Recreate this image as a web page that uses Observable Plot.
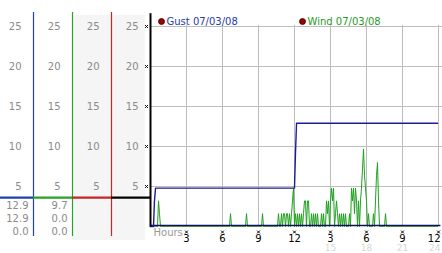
<!DOCTYPE html>
<html><head><meta charset="utf-8">
<script src="https://cdn.jsdelivr.net/npm/d3@7"></script>
<script src="https://cdn.jsdelivr.net/npm/@observablehq/plot@0.6"></script>
<style>body{margin:0;background:#fff} svg{display:block}</style>
</head><body><div id="chart"></div>
<script>
// ---- data ----
const yTicks = [5, 10, 15, 20, 25];
const xTicks = [3, 6, 9, 12, 15, 18, 21, 24];
const xTickLabels = ["3", "6", "9", "12", "3", "6", "9", "12"];
const xTickLabels2 = ["", "", "", "", "15", "18", "21", "24"];
const seriesNames = ["Gust 07/03/08", "Wind 07/03/08"];
const seriesColors = ["#1c1c96", "#1fa01f"];
const legendTextColors = ["#2a3aa8", "#1f9a1f"];

// gust (step curve), hours / values
const gustHours  = [0, 0.25, 0.33, 0.42, 12.0, 12.08, 12.17, 23.92];
const gustValues = [0, 0,    3.2,  4.8,  4.8,  9.1,   12.9,  12.9];

// wind: one reading every 5 minutes, 24 per row (2 hours)
const windStepHours = 5 / 60;
const windValues = [
  0,0,0,0,0,0,0,0,3.2,1.6,0,0,0,0,0,0,0,0,0,0,0,0,0,0,
  0,0,0,0,0,0,0,0,0,0,0,0,0,0,0,0,0,0,0,0,0,0,0,0,
  0,0,0,0,0,0,0,0,0,0,0,0,0,0,0,0,0,0,0,0,0,0,0,0,
  0,0,0,0,0,0,0,0,1.6,0,0,0,0,0,0,0,0,0,0,0,0,0,0,0,
  1.6,0,0,0,0,0,0,0,0,0,0,0,0,0,0,0,1.6,0,0,0,0,0,0,0,
  0,0,0,0,0,0,0,0,1.6,0,0,1.6,0,1.6,1.6,0,1.6,1.6,0,1.6,0,1.6,3.2,4.8,
  0,1.6,0,1.6,0,1.6,0,1.6,0,1.6,3.2,3.2,0,3.2,3.2,0,0,1.6,0,1.6,0,1.6,0,1.6,
  0,0,0,1.6,0,1.6,0,0,3.2,1.6,3.2,0,3.2,4.8,3.2,4.8,0,1.6,3.2,1.6,0,1.6,0,1.6,
  0,1.6,0,1.6,0,0,0,1.6,0,4.8,3.2,4.8,1.6,4.8,3.2,0,3.2,0,3.2,4.8,7.2,9.7,6.4,4.8,
  3.2,0,1.6,0,0,0,0,1.6,0,3.2,6.4,8.0,3.2,0,0,0,0,0,0,1.6,0,0,0,0,
  0,0,0,0,0,0,0,0,0,0,0,0,0,0,0,0,0,0,0,0,0,0,0,0,
  0,0,0,0,0,0,0,0,0,0,0,0,0,0,0,0,0,0,0,0,0,0,0,0
];

// left readout panel: column edges (in hour units of the shared x scale)
const panelLeft  = [-12.5, -9.75, -6.5, -3.25];
const panelRight = [-9.75, -6.5, -3.25, 0];
const panelColors = ["#2143a8", "#26a326", "#c42626", "#000000"];
const panelShaded = [false, false, true, true];
const separatorValue = 3.62;
const readouts = [["12.9", "12.9", "0.0"], ["9.7", "0.0", "0.0"]];

// ---- build tables ----
const gust = gustHours.map((h, i) => ({h, v: gustValues[i]}));
const wind = windValues.map((v, i) => ({h: i * windStepHours, v}));
const cols = panelLeft.map((l, i) => ({l, r: panelRight[i], c: panelColors[i], s: panelShaded[i]}));
const colTicks = cols.flatMap(c => yTicks.map(t => ({r: c.r, t})));
const readRow = ri => readouts.map((vals, ci) => ({r: panelRight[ci], t: vals[ri]}));
const xt = xTicks.map((t, i) => ({t, a: xTickLabels[i], b: xTickLabels2[i]}));
const xtInner = xt.slice(0, -1), xtLast = xt.slice(-1);

const font = "DejaVu Sans, Verdana, sans-serif";
const legendMarks = seriesNames.flatMap((name, i) => {
  const off = i === 0 ? 11 : 152;
  return [
    Plot.dot([name], {x: 0, y: 25, dx: off, dy: -5, r: 3, fill: "#a00000", stroke: "#3a0000", strokeWidth: 0.8}),
    Plot.text([name], {x: 0, y: 25, dx: off + 5, dy: -5, text: d => d, textAnchor: "start", fill: legendTextColors[i], fontSize: 10})
  ];
});

const chart = Plot.plot({
  width: 442, height: 253,
  marginLeft: 150, marginRight: 4, marginTop: 26, marginBottom: 27,
  x: {domain: [0, 24], axis: null},
  y: {domain: [0, 25], axis: null},
  style: {fontFamily: font, fontSize: "10px", background: "#fff", overflow: "visible"},
  marks: [
    // shaded panel columns
    Plot.rectY(cols.filter(c => c.s), {x1: "l", x2: d => d.r - (d.r === 0 ? 0.42 : 0), y1: -1.75, y2: 26.4, fill: "#f5f5f5"}),
    // grid
    Plot.ruleY(yTicks, {x1: 0, x2: 24.33, stroke: "#bdbdbd", strokeWidth: 1}),
    Plot.ruleX(xTicks, {y1: 0, y2: 25.15, stroke: "#bdbdbd", strokeWidth: 1}),
    // panel column lines
    Plot.ruleX(cols.slice(0, 3), {x: "r", y1: -1.25, y2: 26.75, stroke: "c", strokeWidth: 1.2}),
    // separator bar
    Plot.ruleY(cols, {y: separatorValue, x1: "l", x2: "r", stroke: "c", strokeWidth: 2.2}),
    // panel tick labels
    Plot.text(colTicks, {x: "r", y: "t", text: d => String(d.t), textAnchor: "end", dx: -12, fill: "#8a8a8a"}),
    // readout values
    Plot.text(readRow(0), {x: "r", y: separatorValue, text: "t", textAnchor: "end", dx: -5, dy: 8, fill: "#8a8a8a"}),
    Plot.text(readRow(1), {x: "r", y: separatorValue, text: "t", textAnchor: "end", dx: -5, dy: 21, fill: "#8a8a8a"}),
    Plot.text(readRow(2), {x: "r", y: separatorValue, text: "t", textAnchor: "end", dx: -5, dy: 34, fill: "#8a8a8a"}),
    // y tick markers on main axis
    Plot.dot(yTicks, {x: 0, y: d => d, dx: -4, symbol: "times", r: 1.4, stroke: "#000", strokeWidth: 1}),
    // wind line
    Plot.line(wind, {x: "h", y: "v", stroke: seriesColors[1], strokeWidth: 1}),
    // baseline
    Plot.ruleY([0], {x1: 0, x2: 24.2, dy: -1, stroke: "#10105a", strokeWidth: 1.5}),
    // gust line
    Plot.line(gust, {x: "h", y: "v", stroke: seriesColors[0], strokeWidth: 1.4}),
    // main axis line
    Plot.ruleX([0], {y1: -0.1, y2: 26.6, stroke: "#000", strokeWidth: 2}),
    // x axis
    Plot.dot(xt, {x: "t", y: 0, dy: 5.5, symbol: "times", r: 1.4, stroke: "#000", strokeWidth: 1}),
    Plot.text(xtInner, {x: "t", y: 0, dy: 12, text: "a", fill: "#000", fontSize: 10}),
    Plot.text(xtInner, {x: "t", y: 0, dy: 22, text: "b", fill: "#d6d6d6", fontSize: 9}),
    Plot.text(xtLast, {x: "t", y: 0, dx: 2, dy: 12, text: "a", textAnchor: "end", fill: "#000", fontSize: 10}),
    Plot.text(xtLast, {x: "t", y: 0, dx: 2, dy: 22, text: "b", textAnchor: "end", fill: "#d6d6d6", fontSize: 9}),
    Plot.text(["Hours"], {x: 0, y: 0, dx: 3, dy: 6.5, text: d => d, textAnchor: "start", fill: "#999"}),
    // legend
    ...legendMarks
  ]
});
document.getElementById("chart").appendChild(chart);
</script>
</body></html>
